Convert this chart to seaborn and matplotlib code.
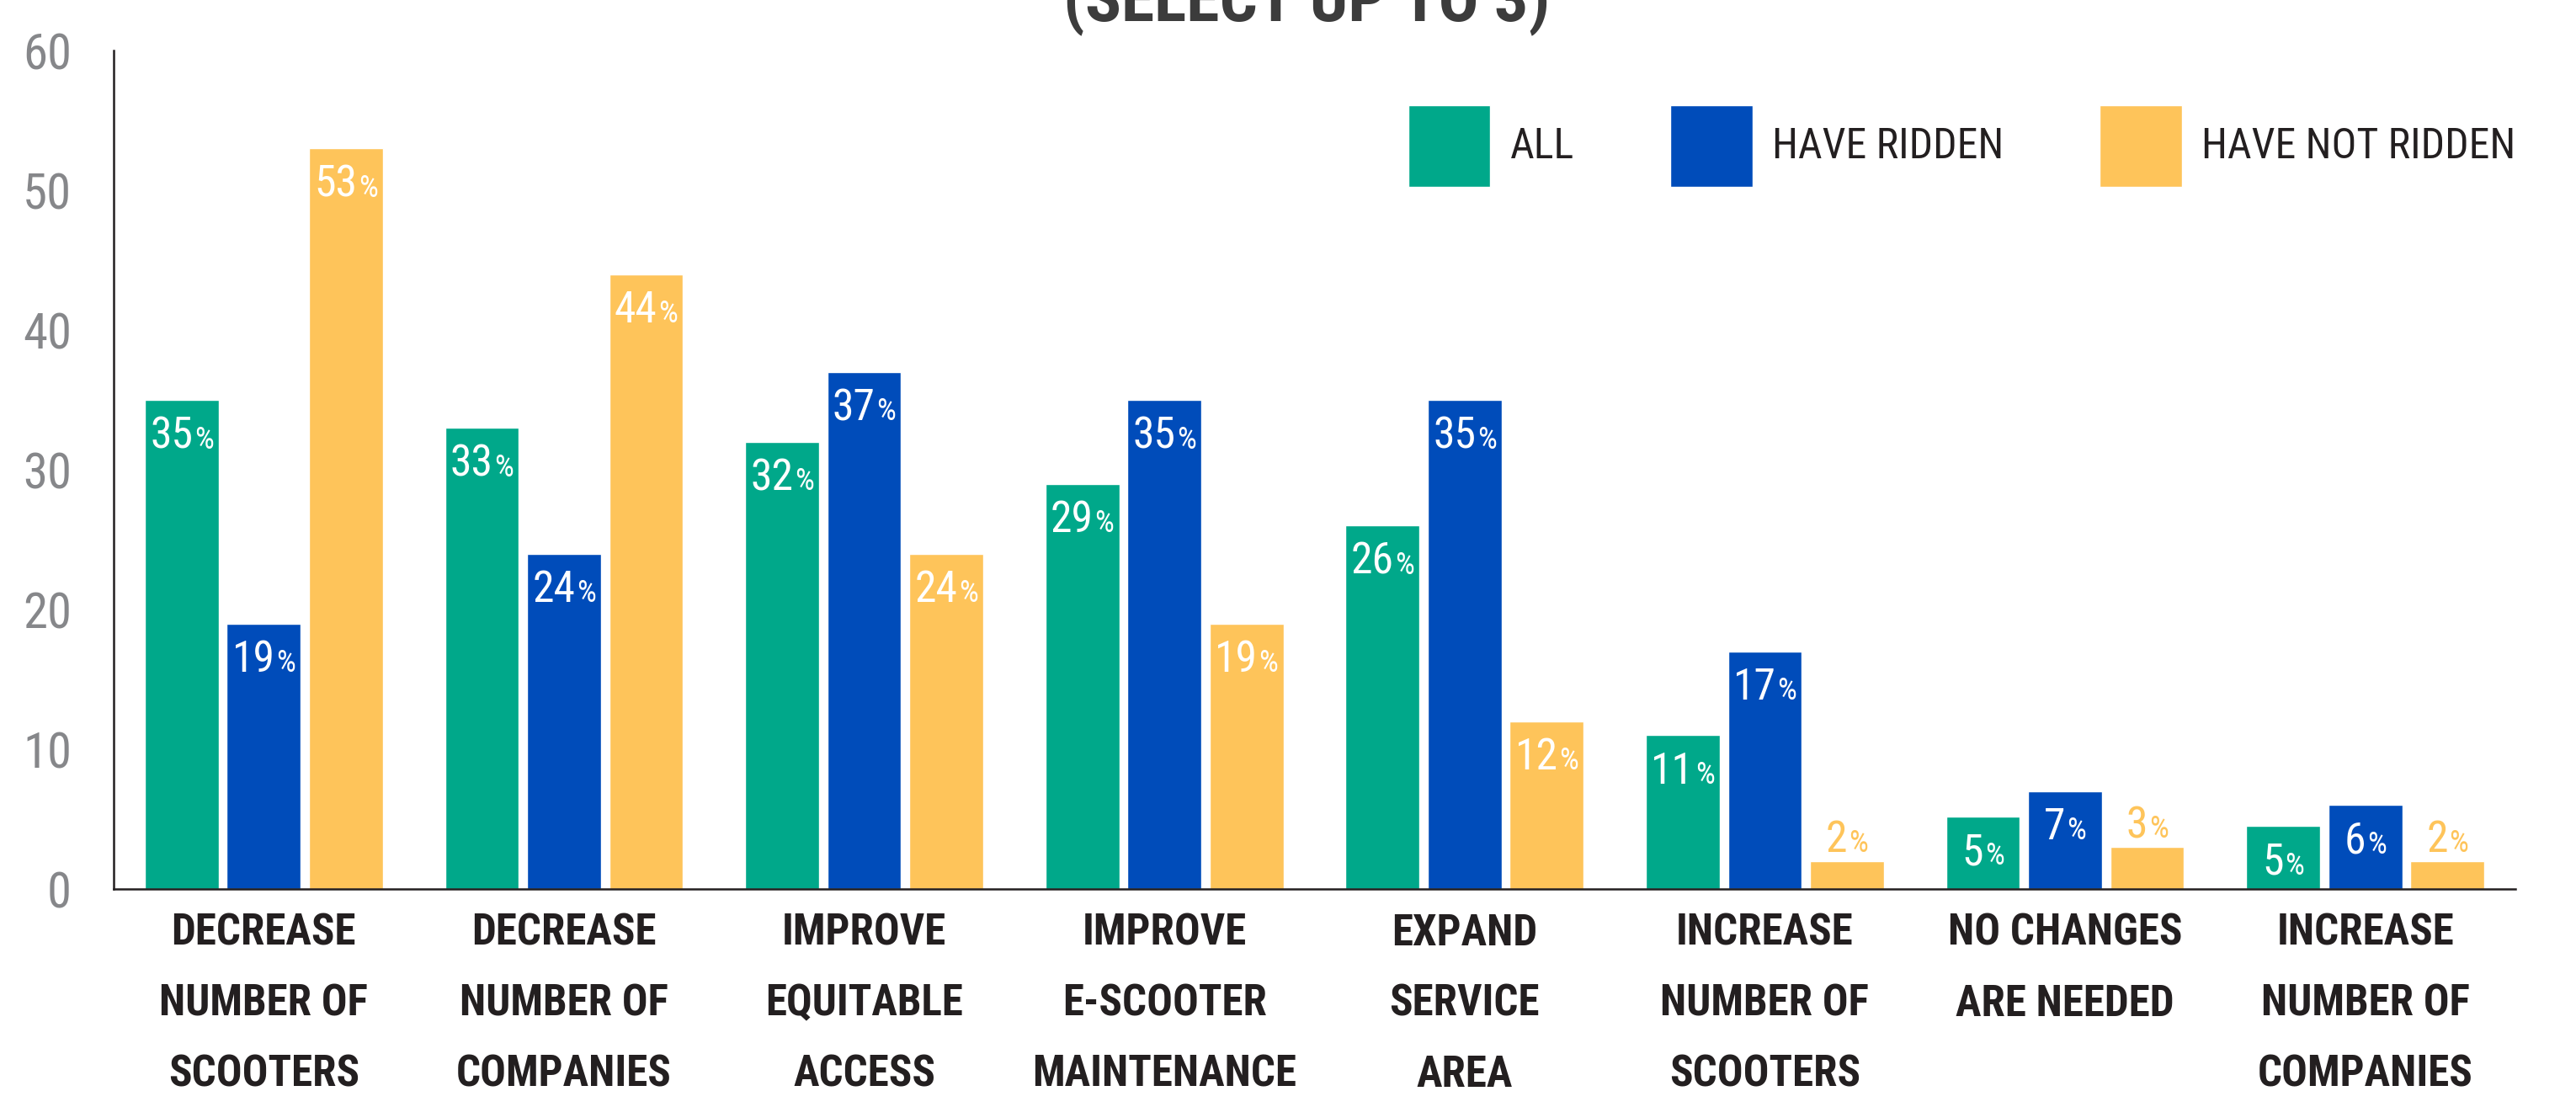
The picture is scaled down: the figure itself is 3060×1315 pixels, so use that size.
import os
import numpy as np
import pandas as pd
import matplotlib
matplotlib.use("Agg")
import matplotlib.pyplot as plt
import seaborn as sns
from matplotlib import font_manager as fm
from matplotlib.font_manager import FontProperties
from matplotlib.textpath import TextPath

# ---------------- data ----------------
categories = [
    "DECREASE\nNUMBER OF\nSCOOTERS",
    "DECREASE\nNUMBER OF\nCOMPANIES",
    "IMPROVE\nEQUITABLE\nACCESS",
    "IMPROVE\nE-SCOOTER\nMAINTENANCE",
    "EXPAND\nSERVICE\nAREA",
    "INCREASE\nNUMBER OF\nSCOOTERS",
    "NO CHANGES\nARE NEEDED",
    "INCREASE\nNUMBER OF\nCOMPANIES",
]
series_names = ["ALL", "HAVE RIDDEN", "HAVE NOT RIDDEN"]
all_vals = [35, 33, 32, 29, 26, 11, 5.2, 4.5]
ridden_vals = [19, 24, 37, 35, 35, 17, 7, 6]
not_ridden_vals = [53, 44, 24, 19, 12, 2, 3, 2]
y_ticks = [0, 10, 20, 30, 40, 50, 60]
title_text = "(SELECT UP TO 3)"
colors = ["#00A88A", "#004CBA", "#FEC45A"]

df = pd.DataFrame({
    "category": categories * 3,
    "group": sum([[s] * len(categories) for s in series_names], []),
    "value": all_vals + ridden_vals + not_ridden_vals,
})

# ---------------- fonts ----------------
sns.set_style("white")
plt.rcParams["font.family"] = ["DejaVu Sans"]

files = {os.path.splitext(os.path.basename(f.fname))[0].lower(): f.fname
         for f in fm.fontManager.ttflist}


def pick(prefs):
    for p in prefs:
        if p in files:
            return FontProperties(fname=files[p])
    return None


FP_BOLD = pick(["notosans-extracondensedbold", "notosans-extracondensedsemibold",
                "robotocondensed-bold", "notosans-condensedbold",
                "liberationsansnarrow-bold", "dejavusanscondensed-bold"]) \
    or FontProperties(family="DejaVu Sans", weight="bold")
FP_REG = pick(["notosans-extracondensed", "notosans-extracondensedmedium",
               "robotocondensed-regular", "notosans-condensed",
               "liberationsansnarrow-regular", "liberationsansnarrow",
               "dejavusanscondensed"]) \
    or FontProperties(family="DejaVu Sans")

DPI = 100
PX_PER_PT = DPI / 72.0

fig = plt.figure(figsize=(30.6, 13.15), dpi=DPI)
renderer = fig.canvas.get_renderer()


def fp_at(fp, size):
    f = fp.copy()
    f.set_size(size)
    return f


def measure(s, fp, size):
    w, _, _ = renderer.get_text_width_height_descent(s, fp_at(fp, size), ismath=False)
    return w


def cap_px(fp, size):
    tp = TextPath((0, 0), "H", prop=fp_at(fp, size))
    return tp.get_extents().height * PX_PER_PT


def fit(s, fp, target_w, target_cap):
    return min(100 * target_cap / cap_px(fp, 100), 100 * target_w / measure(s, fp, 100))


cat_size = fit("MAINTENANCE", FP_BOLD, 314, 60)
tick_size = fit("60", FP_REG, 58, 58)
leg_size = fit("HAVE NOT RIDDEN", FP_REG, 373, 64)
lab_size = fit("35", FP_REG, 51, 41)
pct_size = lab_size * 0.7
title_size = fit(title_text, FP_BOLD, 578, 72)

# ---------------- axes & bars ----------------
ax = fig.add_axes([135 / 3060, 1 - 1056 / 1315, (2988 - 135) / 3060, (1056 - 60) / 1315])

sns.barplot(data=df, x="category", y="value", hue="group", order=categories,
            hue_order=series_names, palette=colors, saturation=1,
            width=0.82, gap=0.1, ax=ax, legend=True, errorbar=None)

ax.set_xlim(-0.5, len(categories) - 0.5)
ax.set_ylim(0, 60)
ax.set_xlabel("")
ax.set_ylabel("")
ax.set_axisbelow(True)

INK = "#231F20"
for side in ["top", "right"]:
    ax.spines[side].set_visible(False)
for side in ["left", "bottom"]:
    ax.spines[side].set_color(INK)
    ax.spines[side].set_linewidth(1.8)

ax.set_yticks(y_ticks)
ax.set_yticklabels([str(t) for t in y_ticks])
ax.tick_params(axis="y", direction="in", length=47, width=1.8, color=INK,
               pad=36, labelcolor="#86878A")
for lbl in ax.get_yticklabels():
    lbl.set_fontproperties(fp_at(FP_REG, tick_size))

ax.set_xticks(np.arange(len(categories)))
ax.set_xticklabels(categories)
ax.set_xticks(np.arange(0.5, len(categories), 1), minor=True)
ax.tick_params(axis="x", which="major", length=0, pad=20, labelcolor=INK)
ax.tick_params(axis="x", which="minor", direction="in", length=24, width=1.8,
               color=INK)
_, lp_h, lp_d = renderer.get_text_width_height_descent("lp", fp_at(FP_BOLD, cat_size), ismath=False)
linesp = (84 - lp_d) / (lp_h - lp_d)
for lbl in ax.get_xticklabels():
    lbl.set_fontproperties(fp_at(FP_BOLD, cat_size))
    lbl.set_linespacing(linesp)
    lbl.set_multialignment("center")

# ---------------- bar labels ----------------
gap = 1.2
cap_lab_pt = cap_px(FP_REG, lab_size) / PX_PER_PT
for ci, cont in enumerate(ax.containers):
    for patch in cont.patches:
        v = patch.get_height()
        xc = patch.get_x() + patch.get_width() / 2
        num = f"{int(v + 0.5)}"
        wn = measure(num, FP_REG, lab_size) / PX_PER_PT
        wp = measure("%", FP_REG, pct_size) / PX_PER_PT
        left = -(wn + wp + gap) / 2
        if v >= 4:
            dy = -(15 + cap_lab_pt)
            col = "white"
        else:
            dy = 8
            col = colors[ci]
        ax.annotate(num, xy=(xc, v), xytext=(left, dy), textcoords="offset points",
                    ha="left", va="baseline", color=col,
                    fontproperties=fp_at(FP_REG, lab_size))
        ax.annotate("%", xy=(xc, v), xytext=(left + wn + gap, dy),
                    textcoords="offset points", ha="left", va="baseline",
                    color=col, fontproperties=fp_at(FP_REG, pct_size))

# ---------------- legend ----------------
handles, labels = ax.get_legend_handles_labels()
if ax.get_legend() is not None:
    ax.get_legend().remove()
ax.legend(handles, labels, loc="upper right", bbox_to_anchor=(1.0, 0.935),
          ncol=3, frameon=False, prop=fp_at(FP_REG, leg_size),
          handlelength=70.5 / leg_size, handleheight=94 / leg_size,
          handletextpad=16.6 / leg_size, columnspacing=82 / leg_size,
          borderaxespad=0, borderpad=0, labelcolor=INK)

# ---------------- title (cropped at top, as in the reference) ----------------
fig.text(1552 / 3060, 1 - 24 / 1315, title_text, ha="center", va="baseline",
         fontproperties=fp_at(FP_BOLD, title_size), color="#3C3C3C")

fig.savefig("out.png", dpi=DPI, facecolor="white")
